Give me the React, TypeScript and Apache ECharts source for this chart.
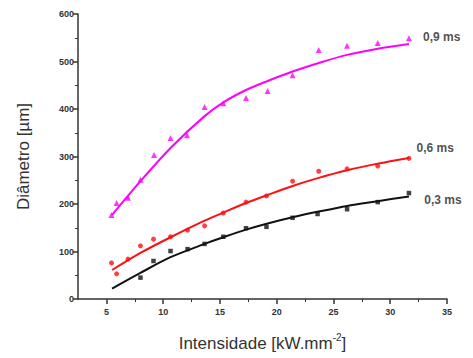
import React, { useEffect, useRef } from "react";
import * as echarts from "echarts";

// Measured points (x: intensidade kW/mm², y: diâmetro µm)
const x09 = [5.45, 5.9, 6.9, 8.0, 9.2, 10.65, 12.1, 13.65, 15.3, 17.3, 19.2, 21.4, 23.7, 26.2, 28.9, 31.65];
const y09 = [177, 202, 213, 251, 303, 339, 345, 404, 412, 423, 438, 471, 524, 533, 539, 549];

const x06 = [5.45, 5.9, 6.9, 8.0, 9.15, 10.65, 12.15, 13.65, 15.3, 17.3, 19.1, 21.4, 23.7, 26.2, 28.9, 31.65];
const y06 = [76, 53, 84, 112, 126, 131, 145, 154, 181, 204, 217, 248, 269, 274, 280, 296];

const x03 = [8.0, 9.15, 10.65, 12.15, 13.65, 15.3, 17.3, 19.1, 21.4, 23.6, 26.2, 28.9, 31.65];
const y03 = [45, 80, 101, 105, 116, 131, 149, 152, 171, 179, 189, 204, 223];

// Fitted curves
const fitX = [5.5, 8, 10.65, 13.65, 15.3, 17.3, 19.2, 21.4, 23.7, 26.2, 28.9, 31.65];
const fitY09 = [177, 248, 318, 385, 414, 440, 459, 479, 497, 514, 527, 537];
const fitY06 = [61, 97, 130, 165, 182, 202, 219, 238, 255, 271, 285, 297];
const fitY03 = [22, 55, 88, 116, 130, 146, 159, 172, 184, 196, 206, 216];

const seriesNames = ["0,9 ms", "0,6 ms", "0,3 ms"];
const xMajorTicks = [5, 10, 15, 20, 25, 30, 35];
const xMinorTicks = [7.5, 12.5, 17.5, 22.5, 27.5, 32.5];

const FONT = "Arial, 'Liberation Sans', sans-serif";

function pairs(xs: number[], ys: number[]) {
  return xs.map((x, i) => [x, ys[i]]);
}

function withEndLabel(xs: number[], ys: number[], name: string, offset: number[]) {
  return xs.map((x, i) =>
    i === xs.length - 1
      ? {
          value: [x, ys[i]],
          label: {
            show: true,
            formatter: name,
            position: "right",
            offset,
            color: "#222",
            fontWeight: "bold",
            fontSize: 12,
            fontFamily: FONT,
          },
        }
      : [x, ys[i]]
  );
}

export default function App() {
  const ref = useRef<HTMLDivElement>(null);
  useEffect(() => {
    if (!ref.current) return;
    const chart = echarts.init(ref.current, null, { renderer: "svg" });
    const axisColor = "#333";
    const fitLine = (ys: number[], color: string) => ({
      type: "line",
      data: pairs(fitX, ys),
      smooth: 0.3,
      showSymbol: false,
      lineStyle: { color, width: 2 },
      silent: true,
    });
    chart.setOption({
      animation: false,
      backgroundColor: "#fff",
      grid: { left: 78, right: 26, top: 14, bottom: 59, containLabel: false },
      xAxis: [
        {
          type: "value",
          min: 2.5,
          max: 35,
          name: "Intensidade [kW.mm{sup|-2}]",
          nameLocation: "middle",
          nameGap: 33,
          nameTextStyle: {
            fontFamily: FONT,
            fontSize: 17,
            color: "#333",
            rich: {
              sup: { fontSize: 10, fontFamily: FONT, color: "#333", padding: [0, 0, 12, 0] },
            },
          },
          splitLine: { show: false },
          axisLine: { onZero: false, lineStyle: { color: axisColor, width: 1.5 } },
          axisTick: { show: true, length: 5, customValues: xMajorTicks, lineStyle: { color: axisColor, width: 1.5 } },
          axisLabel: {
            customValues: xMajorTicks,
            margin: 8,
            fontFamily: FONT,
            fontSize: 9,
            fontWeight: "bold",
            color: "#333",
          },
        },
        {
          type: "value",
          min: 2.5,
          max: 35,
          position: "bottom",
          axisLine: { show: false },
          splitLine: { show: false },
          axisTick: { show: true, length: 3, customValues: xMinorTicks, lineStyle: { color: axisColor, width: 1 } },
          axisLabel: { show: false },
        },
      ],
      yAxis: {
        type: "value",
        min: 0,
        max: 600,
        interval: 100,
        name: "Diâmetro [µm]",
        nameLocation: "middle",
        nameGap: 46,
        nameTextStyle: { fontFamily: FONT, fontSize: 17, color: "#333" },
        splitLine: { show: false },
        axisLine: { show: true, onZero: false, lineStyle: { color: axisColor, width: 1.5 } },
        axisTick: { show: true, length: 5, lineStyle: { color: axisColor, width: 1.5 } },
        minorTick: { show: true, splitNumber: 2, length: 3, lineStyle: { color: axisColor, width: 1 } },
        axisLabel: {
          margin: 4,
          fontFamily: FONT,
          fontSize: 9,
          fontWeight: "bold",
          color: "#333",
        },
      },
      series: [
        fitLine(fitY09, "#ff00ff"),
        fitLine(fitY06, "#ff1010"),
        fitLine(fitY03, "#111"),
        {
          type: "scatter",
          name: seriesNames[0],
          symbol: "triangle",
          symbolSize: 6,
          itemStyle: { color: "#ff00ff" },
          data: withEndLabel(x09, y09, seriesNames[0], [6, -1]),
        },
        {
          type: "scatter",
          name: seriesNames[1],
          symbol: "circle",
          symbolSize: 5,
          itemStyle: { color: "#ff1010" },
          data: withEndLabel(x06, y06, seriesNames[1], [0, -10]),
        },
        {
          type: "scatter",
          name: seriesNames[2],
          symbol: "rect",
          symbolSize: 4.5,
          itemStyle: { color: "#111" },
          data: withEndLabel(x03, y03, seriesNames[2], [8, 7]),
        },
      ],
    });
    return () => chart.dispose();
  }, []);
  return (
    <div
      ref={ref}
      style={{ position: "fixed", left: 0, top: 0, width: 473, height: 358, background: "#fff" }}
    />
  );
}
